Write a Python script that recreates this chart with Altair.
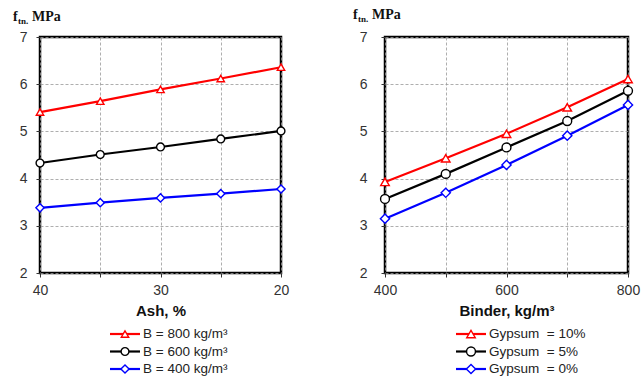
import altair as alt
import pandas as pd

# ---------------- data ----------------
ash = [40, 35, 30, 25, 20]
b800 = [5.41, 5.64, 5.89, 6.12, 6.36]
b600 = [4.33, 4.51, 4.67, 4.84, 5.01]
b400 = [3.38, 3.49, 3.59, 3.68, 3.78]
left_labels = ["B = 800 kg/m\u00b3", "B = 600 kg/m\u00b3", "B = 400 kg/m\u00b3"]

binder = [400, 500, 600, 700, 800]
g10 = [3.93, 4.43, 4.95, 5.51, 6.11]
g5 = [3.57, 4.10, 4.66, 5.22, 5.86]
g0 = [3.15, 3.70, 4.29, 4.91, 5.56]
right_labels = ["Gypsum\u00a0\u00a0= 10%", "Gypsum\u00a0\u00a0= 5%", "Gypsum\u00a0\u00a0= 0%"]

y_ticks = [2, 3, 4, 5, 6, 7]
left_x_ticks = [40, 35, 30, 25, 20]
right_x_ticks = [400, 500, 600, 700, 800]

colors = ["#ff0000", "#000000", "#0000ff"]
shapes = ["triangle-up", "circle", "diamond"]
sizes = [55, 85, 40]


def long_df(xs, series, labels):
    rows = []
    for lab, vals in zip(labels, series):
        for x, v in zip(xs, vals):
            rows.append({"x": x, "v": v, "s": lab})
    return pd.DataFrame(rows)


left_df = long_df(ash, [b800, b600, b400], left_labels)
right_df = long_df(binder, [g10, g5, g0], right_labels)


def panel(df, labels, xdomain, xticks, xtitle, label_mod, w, h, ylabpad,
          leg_x, title_x, title_y):
    color = alt.Color("s:N", scale=alt.Scale(domain=labels, range=colors), legend=None)
    shape = alt.Shape("s:N", scale=alt.Scale(domain=labels, range=shapes), legend=None)
    size = alt.Size("s:N", scale=alt.Scale(domain=labels, range=sizes), legend=None)

    xenc = alt.X("x:Q", scale=alt.Scale(domain=xdomain, nice=False),
                 axis=alt.Axis(values=xticks, title=xtitle,
                               labelExpr=f"datum.value % {label_mod} == 0 ? datum.label : ''"))
    yenc = alt.Y("v:Q", scale=alt.Scale(domain=[2, 7], nice=False),
                 axis=alt.Axis(values=y_ticks, title=None, labelPadding=ylabpad))

    base = alt.Chart(df)
    lines = base.mark_line(strokeWidth=2.2).encode(x=xenc, y=yenc, color=color)
    pts = base.mark_point(filled=False, fill="white", fillOpacity=1, opacity=1,
                          strokeWidth=1.4).encode(x=xenc, y=yenc, color=color,
                                                  shape=shape, size=size)
    data_layer = alt.layer(lines, pts)

    leg_df = pd.DataFrame({"s": labels})
    ly = alt.Y("s:N", scale=alt.Scale(type="point", domain=labels, range=[297, 332], padding=0),
               axis=None)
    lb = alt.Chart(leg_df)
    leg_rule = lb.mark_rule(strokeWidth=2.2).encode(
        x=alt.value(leg_x), x2=alt.value(leg_x + 30), y=ly, color=color)
    leg_pt = lb.mark_point(filled=False, fill="white", fillOpacity=1, opacity=1,
                           strokeWidth=1.4).encode(
        x=alt.value(leg_x + 15), y=ly, color=color, shape=shape, size=size)
    leg_txt = lb.mark_text(align="left", baseline="middle", font="Liberation Sans",
                           fontSize=13.5, color="#222").encode(
        x=alt.value(leg_x + 33), y=ly, text="s:N")
    leg_layer = alt.layer(leg_rule, leg_pt, leg_txt)

    tdf = pd.DataFrame({"f": ["f"], "sub": ["tn."], "u": ["MPa"]})
    tb = alt.Chart(tdf)
    t_f = tb.mark_text(align="left", baseline="alphabetic", font="Liberation Serif",
                       fontWeight="bold", fontSize=14, color="#111").encode(
        x=alt.value(title_x), y=alt.value(title_y), text="f:N")
    t_sub = tb.mark_text(align="left", baseline="alphabetic", font="Liberation Serif",
                         fontWeight="bold", fontSize=9, color="#111").encode(
        x=alt.value(title_x + 5), y=alt.value(title_y + 3), text="sub:N")
    t_u = tb.mark_text(align="left", baseline="alphabetic", font="Liberation Serif",
                       fontWeight="bold", fontSize=14, color="#111").encode(
        x=alt.value(title_x + 19), y=alt.value(title_y), text="u:N")

    return alt.layer(data_layer, leg_layer, t_f, t_sub, t_u).resolve_scale(
        y="independent").properties(width=w, height=h)


left = panel(left_df, left_labels, [40, 20], left_x_ticks, "Ash, %", 10,
             241, 236, 9, 70, -27, -16)
right = panel(right_df, right_labels, [400, 800], right_x_ticks, "Binder, kg/m\u00b3", 200,
              243, 236, 14, 71, -32, -18)

chart = alt.hconcat(left, right, spacing=60).properties(
    padding={"left": 11, "top": 6, "right": 0, "bottom": 0}
).configure_view(
    stroke="black", strokeWidth=2.5
).configure_axis(
    domain=False, labelFlush=False,
    grid=True, gridColor="#999", gridDash=[3, 2], gridWidth=0.8,
    ticks=True, tickColor="#333", tickSize=4, tickWidth=1,
    labelFont="Liberation Sans", labelFontSize=14, labelColor="#333",
    titleFont="Liberation Sans", titleFontSize=15, titleFontWeight="bold", titleColor="#111"
).configure_axisX(
    labelPadding=6, titlePadding=6
)

chart.save("out.html", embed_options={"renderer": "svg", "actions": False})
